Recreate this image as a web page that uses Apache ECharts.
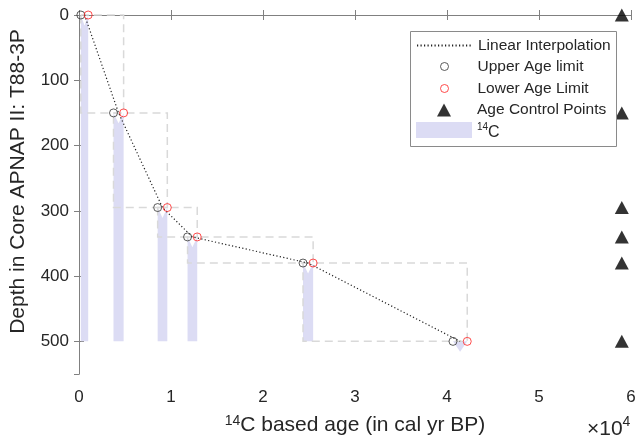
<!DOCTYPE html>
<html>
<head>
<meta charset="utf-8">
<script src="https://cdn.jsdelivr.net/npm/echarts@6/dist/echarts.min.js"></script>
<style>
html, body { margin: 0; padding: 0; background: #fff; }
#main { width: 635px; height: 448px; }
</style>
</head>
<body>
<div id="main"></div>
<script>
// sample depths (cm) and calibrated 14C age range (cal yr BP)
const depths = [0, 150, 295, 340, 380, 500]
const upperAge = [200, 3750, 8550, 11800, 24350, 40650]
const lowerAge = [1000, 4850, 9600, 12850, 25450, 42200]
const interpAge = [600, 4300, 9075, 12325, 24900, 41425]
const controlAge = [59000, 59000, 59000, 59000, 59000, 59000]
const coreBase = 500
const xTicks = [0, 1, 2, 3, 4, 5, 6]   // x 10^4
const yTicks = [0, 100, 200, 300, 400, 500]
const yMax = 550

const font = "'Liberation Sans', Arial, Helvetica, sans-serif"
const axisColor = '#808080'
const textColor = '#262626'

const chart = echarts.init(document.getElementById('main'))

//14C patches: band from sample depth down to core base, notched at top
function patchItem(params, api) {
  const i = params.dataIndex
  const pts = [
    [upperAge[i], coreBase],
    [upperAge[i], depths[i]],
    [interpAge[i], depths[i] + 16],
    [lowerAge[i], depths[i]],
    [lowerAge[i], coreBase]
  ].map(p => api.coord(p))
  return { type: 'polygon', shape: { points: pts }, style: { fill: '#dcdcf4' } }
}

//dashed boxes between consecutive samples
function boxItem(params, api) {
  const i = params.dataIndex
  const p0 = api.coord([upperAge[i], depths[i]])
  const p1 = api.coord([lowerAge[i + 1], depths[i + 1]])
  return {
    type: 'rect',
    shape: { x: p0[0], y: p0[1], width: p1[0] - p0[0], height: p1[1] - p0[1] },
    style: { fill: 'none', stroke: '#d9d9d9', lineWidth: 1.5, lineDash: [8, 5] }
  }
}

// legend icons keep the full 56px width so the text lines up
const circleIcon = 'path://M0,0M56,8M24,4A4,4,0,1,1,32,4A4,4,0,1,1,24,4Z'
const triangleIcon = 'path://M0,0M56,13M21,13L28,0L35,13Z'

function makeLegend(top, itemHeight, extra) {
  return Object.assign({
    left: 416,
    top: top,
    orient: 'vertical',
    padding: 0,
    itemWidth: 56,
    itemHeight: itemHeight,
    selectedMode: false,
    symbolKeepAspect: false,
    z: 10,
    textStyle: { fontFamily: font, fontSize: 15.5, color: textColor }
  }, extra)
}

const xAxisBase = {
  type: 'value',
  min: xTicks[0] * 10000,
  max: xTicks[xTicks.length - 1] * 10000,
  interval: 10000,
  splitLine: { show: false },
  axisLine: { lineStyle: { color: axisColor, width: 1 } },
  axisTick: { inside: true, length: 5, lineStyle: { color: axisColor } }
}
const yAxisBase = {
  type: 'value',
  inverse: true,
  min: yTicks[0],
  max: yMax,
  interval: 100,
  splitLine: { show: false },
  axisLine: { lineStyle: { color: axisColor, width: 1 } },
  axisTick: { inside: true, length: 5, lineStyle: { color: axisColor } }
}

const option = {
  animation: false,
  backgroundColor: '#fff',
  grid: { left: 79, right: 4, top: 15, bottom: 74, outerBoundsMode: 'none' },
  xAxis: [
    Object.assign({}, xAxisBase, {
      position: 'bottom',
      axisLabel: {
        fontFamily: font, fontSize: 17, color: textColor, margin: 15,
        formatter: v => String(v / 10000)
      },
      name: '{sup|14}C based age (in cal yr BP)',
      nameLocation: 'middle',
      nameGap: 36,
      nameTextStyle: {
        fontFamily: font, fontSize: 21, color: textColor, lineHeight: 28,
        rich: { sup: { fontFamily: font, fontSize: 14, padding: [3, 0, 0, 0], verticalAlign: 'top', color: textColor } }
      }
    }),
    Object.assign({}, xAxisBase, { position: 'top', axisLabel: { show: false } })
  ],
  yAxis: [
    Object.assign({}, yAxisBase, {
      position: 'left',
      axisLabel: {
        fontFamily: font, fontSize: 17, color: textColor, margin: 10,
        showMaxLabel: false,
        formatter: v => (yTicks.indexOf(v) >= 0 ? String(v) : '')
      },
      name: 'Depth in Core APNAP II: T88-3P',
      nameLocation: 'middle',
      nameGap: 50,
      nameTextStyle: { fontFamily: font, fontSize: 21, color: textColor, padding: [0, 0, 0, 26] }
    }),
    Object.assign({}, yAxisBase, { position: 'right', axisLabel: { show: false } })
  ],
  legend: [
    makeLegend(37.5, 8, {
      data: [{ name: 'Linear Interpolation', itemStyle: { opacity: 0 } }]
    }),
    makeLegend(58.5, 8, {
      data: [{ name: 'Upper Age limit', icon: circleIcon, itemStyle: { color: 'rgba(0,0,0,0)', borderColor: '#333', borderWidth: 1 } }]
    }),
    makeLegend(80.5, 8, {
      data: [{ name: 'Lower Age Limit', icon: circleIcon, itemStyle: { color: 'rgba(0,0,0,0)', borderColor: '#ff2020', borderWidth: 1 } }]
    }),
    makeLegend(102, 13, {
      data: [{ name: 'Age Control Points', icon: triangleIcon, itemStyle: { color: '#000', borderWidth: 0 } }]
    }),
    makeLegend(119, 16, {
      data: [{ name: '14C', icon: 'rect' }],
      formatter: () => '{sup|14}{c|C}',
      textStyle: {
        fontFamily: font, fontSize: 15.5, color: textColor,
        rich: {
          sup: { fontFamily: font, fontSize: 10, padding: [3, 0, 0, 0], verticalAlign: 'top', color: textColor },
          c: { fontFamily: font, fontSize: 16, lineHeight: 22, padding: [6, 0, 0, 0], color: textColor }
        }
      }
    })
  ],
  graphic: [
    {
      type: 'rect', z: 5,
      shape: { x: 410.5, y: 31.5, width: 206, height: 115 },
      style: { fill: '#fff', stroke: '#8a8a8a', lineWidth: 1 }
    },
    {
      type: 'text', left: 587, top: 415, z: 5,
      style: {
        text: '\u00d710{sup|4}',
        fontFamily: font, fontSize: 21, lineHeight: 28, fill: textColor,
        rich: { sup: { fontFamily: font, fontSize: 14, verticalAlign: 'top', fill: textColor } }
      }
    }
  ],
  series: [
    {
      name: '14C',
      type: 'custom',
      xAxisIndex: 0, yAxisIndex: 0,
      renderItem: patchItem,
      itemStyle: { color: '#dcdcf4' },
      data: depths.map((d, i) => [upperAge[i], d]),
      z: 1
    },
    {
      name: 'boxes',
      type: 'custom',
      xAxisIndex: 0, yAxisIndex: 0,
      renderItem: boxItem,
      data: depths.slice(0, depths.length - 1).map((d, i) => [upperAge[i], d]),
      z: 2
    },
    {
      name: 'Linear Interpolation',
      type: 'line',
      xAxisIndex: 0, yAxisIndex: 0,
      data: depths.map((d, i) => [interpAge[i], d]),
      symbol: 'none',
      lineStyle: { color: '#222', width: 1.2, type: [1.2, 2.3] },
      z: 3
    },
    {
      name: 'Upper Age limit',
      type: 'scatter',
      xAxisIndex: 0, yAxisIndex: 0,
      data: depths.map((d, i) => [upperAge[i], d]),
      symbol: 'circle',
      symbolSize: 8,
      itemStyle: { color: 'rgba(0,0,0,0)', borderColor: '#333', borderWidth: 1 },
      z: 4
    },
    {
      name: 'Lower Age Limit',
      type: 'scatter',
      xAxisIndex: 0, yAxisIndex: 0,
      data: depths.map((d, i) => [lowerAge[i], d]),
      symbol: 'circle',
      symbolSize: 8,
      itemStyle: { color: 'rgba(0,0,0,0)', borderColor: '#ff2020', borderWidth: 1 },
      z: 4
    },
    {
      name: 'Age Control Points',
      type: 'scatter',
      xAxisIndex: 0, yAxisIndex: 0,
      data: depths.map((d, i) => [controlAge[i], d]),
      symbol: 'triangle',
      symbolSize: [14, 13],
      itemStyle: { color: '#000' },
      z: 4
    }
  ]
}
chart.setOption(option)
</script>
</body>
</html>
